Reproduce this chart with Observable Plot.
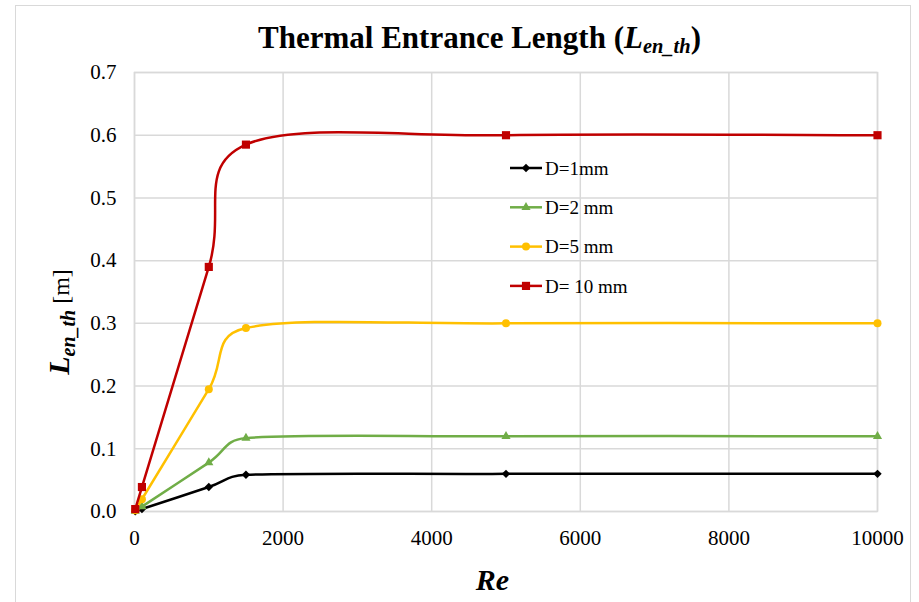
<!DOCTYPE html>
<html>
<head>
<meta charset="utf-8">
<script src="https://cdn.jsdelivr.net/npm/d3@7"></script>
<script src="https://cdn.jsdelivr.net/npm/@observablehq/plot@0.6"></script>
<style>
  body { margin: 0; background: #fff; font-family: "Liberation Serif", "Times New Roman", serif; }
  #chart { position: relative; width: 919px; height: 602px; overflow: hidden; }
  #frame { position: absolute; left: 15px; top: 5px; width: 896px; height: 660px;
           border: 1.5px solid #d9d9d9; box-sizing: border-box; pointer-events: none; }
  #title { position: relative; height: 60px; box-sizing: border-box; padding-top: 22px;
           padding-left: 40px; text-align: center; font-size: 31px; font-weight: bold;
           line-height: 1; color: #000; white-space: nowrap; }
  #title i { font-weight: bold; }
  #title sub { font-size: 0.66em; vertical-align: -0.22em; line-height: 0; font-style: italic; }
  #plot { position: relative; }
  #plot svg { display: block; }
</style>
</head>
<body>
<div id="chart">
  <div id="frame"></div>
  <div id="title">Thermal Entrance Length (<i>L<sub>en_th</sub></i>)</div>
  <div id="plot"></div>
</div>
<script>
// Reynolds numbers at which the entrance length was evaluated
const reynolds = [10, 100, 1000, 1500, 5000, 10000];

// Thermal entrance length [m] for each tube diameter
const lenD1 = [0.00039, 0.0039, 0.039, 0.0585, 0.06, 0.06];
const lenD2 = [0.00078, 0.0078, 0.078, 0.117, 0.12, 0.12];
const lenD5 = [0.00195, 0.0195, 0.195, 0.2925, 0.3, 0.3];
const lenD10 = [0.0039, 0.039, 0.39, 0.585, 0.6, 0.6];

const seriesNames = ["D=1mm", "D=2 mm", "D=5 mm", "D= 10 mm"];
const seriesColors = ["#000000", "#70AD47", "#FFC000", "#C00000"];
const seriesSymbols = ["diamond2", "triangle", "circle", "square"];
const seriesRadius = [3.8, 3.4, 4, 4.6];

const xTicks = [0, 2000, 4000, 6000, 8000, 10000];
const yTicks = [0, 0.1, 0.2, 0.3, 0.4, 0.5, 0.6, 0.7];

const seriesValues = [lenD1, lenD2, lenD5, lenD10];
const series = seriesNames.map((name, i) => ({
  name,
  color: seriesColors[i],
  symbol: seriesSymbols[i],
  r: seriesRadius[i],
  rows: reynolds.map((re, j) => ({re, len: seriesValues[i][j]}))
}));

// Spreadsheet-style smoothed line: cubic Bézier segments whose control arms are
// one sixth of the neighbour chord, clamped to half the segment length.
function smoothLine(context) {
  let pts = [];
  return {
    areaStart() {}, areaEnd() {},
    lineStart() { pts = []; },
    point(x, y) { pts.push([+x, +y]); },
    lineEnd() {
      const n = pts.length;
      if (!n) return;
      context.moveTo(pts[0][0], pts[0][1]);
      for (let i = 0; i < n - 1; i++) {
        const p0 = pts[Math.max(i - 1, 0)], p1 = pts[i], p2 = pts[i + 1], p3 = pts[Math.min(i + 2, n - 1)];
        const half = Math.hypot(p2[0] - p1[0], p2[1] - p1[1]) / 2;
        let a = [(p2[0] - p0[0]) / 6, (p2[1] - p0[1]) / 6];
        let b = [(p3[0] - p1[0]) / 6, (p3[1] - p1[1]) / 6];
        const la = Math.hypot(a[0], a[1]), lb = Math.hypot(b[0], b[1]);
        if (la > half) a = a.map(v => v * half / la);
        if (lb > half) b = b.map(v => v * half / lb);
        context.bezierCurveTo(p1[0] + a[0], p1[1] + a[1], p2[0] - b[0], p2[1] - b[1], p2[0], p2[1]);
      }
    }
  };
}

const grid = "#d9d9d9";

const marks = [
  Plot.gridX(xTicks, {stroke: grid, strokeOpacity: 1, strokeWidth: 1.5}),
  Plot.gridY(yTicks, {stroke: grid, strokeOpacity: 1, strokeWidth: 1.5}),
  Plot.frame({stroke: grid, strokeWidth: 1.5}),
  Plot.axisX(xTicks, {tickSize: 0, tickPadding: 19, tickFormat: d3.format("d"), label: null, fontSize: 21}),
  Plot.axisY(yTicks, {tickSize: 0, tickPadding: 18, tickFormat: d3.format(".1f"), label: null, fontSize: 21})
];
for (const s of series) {
  marks.push(Plot.line(s.rows, {x: "re", y: "len", stroke: s.color, strokeWidth: 2.5, curve: smoothLine}));
  marks.push(Plot.dot(s.rows, {x: "re", y: "len", fill: s.color, stroke: "none", symbol: s.symbol, r: s.r}));
}

const chart = Plot.plot({
  width: 919,
  height: 542,
  marginLeft: 134,
  marginRight: 42,
  marginTop: 12,
  marginBottom: 91,
  style: {fontFamily: "'Liberation Serif', 'Times New Roman', serif", fontSize: "21px", color: "#000", background: "transparent"},
  x: {domain: [0, 10000]},
  y: {domain: [0, 0.7]},
  marks
});
document.getElementById("plot").appendChild(chart);

const svg = d3.select(chart);
const xScale = chart.scale("x");
const cx = (xScale.range[0] + xScale.range[1]) / 2;
const serif = "'Liberation Serif', 'Times New Roman', serif";

// Axis titles
const ylab = svg.append("text")
  .attr("transform", "translate(69,262) rotate(-90)")
  .attr("text-anchor", "middle")
  .attr("fill", "#000")
  .style("font-family", serif);
ylab.append("tspan").text("L").style("font-size", "30px").style("font-weight", "bold").style("font-style", "italic");
ylab.append("tspan").text("en_th").attr("dy", 6).style("font-size", "20px").style("font-weight", "bold").style("font-style", "italic");
ylab.append("tspan").text(" [m]").attr("dy", -6).style("font-size", "24px");

svg.append("text")
  .attr("x", cx - 13)
  .attr("y", 530)
  .attr("text-anchor", "middle")
  .attr("fill", "#000")
  .style("font-family", serif)
  .style("font-size", "30px")
  .style("font-weight", "bold")
  .style("font-style", "italic")
  .text("Re");

// Legend inside the plot area
const symbolTypes = {diamond2: d3.symbolDiamond2, triangle: d3.symbolTriangle, circle: d3.symbolCircle, square: d3.symbolSquare};
const legend = svg.append("g").attr("transform", "translate(510,108)");
series.forEach((s, i) => {
  const g = legend.append("g").attr("transform", `translate(0,${i * 39.3})`);
  g.append("line").attr("x1", 0).attr("x2", 32).attr("y1", 0).attr("y2", 0)
    .attr("stroke", s.color).attr("stroke-width", 2.5);
  g.append("path").attr("transform", "translate(16,0)")
    .attr("d", d3.symbol(symbolTypes[s.symbol], Math.PI * s.r * s.r)())
    .attr("fill", s.color);
  g.append("text").attr("x", 35).attr("y", 0).attr("dy", "0.35em")
    .attr("text-anchor", "start")
    .attr("fill", "#000")
    .style("font-family", serif)
    .style("font-size", "19px")
    .text(s.name);
});
</script>
</body>
</html>
